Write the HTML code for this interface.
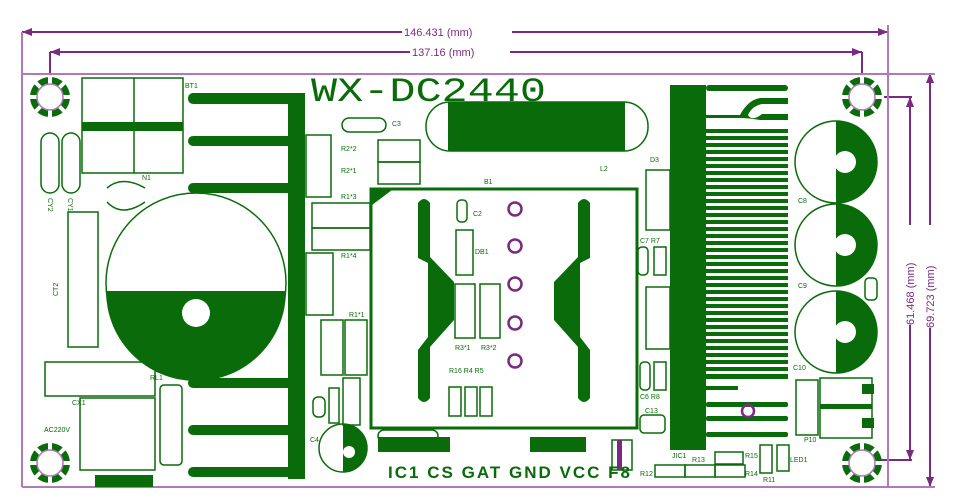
<!DOCTYPE html>
<html><head><meta charset="utf-8"><style>html,body{margin:0;padding:0;background:#fff}svg{display:block}</style></head>
<body>
<svg width="960" height="500" viewBox="0 0 960 500" xmlns="http://www.w3.org/2000/svg" font-family="Liberation Sans, sans-serif">
<defs>
<g id="mh">
<circle cx="0" cy="0" r="20" fill="#0a6b0a"/>
<g stroke="#fff" stroke-width="4"><line x1="0" y1="-22" x2="0" y2="22"/><line x1="-22" y1="0" x2="22" y2="0"/><line x1="-16" y1="-16" x2="16" y2="16"/><line x1="-16" y1="16" x2="16" y2="-16"/></g>
<circle cx="0" cy="0" r="13" fill="#fff" stroke="#b07ab8" stroke-width="1.5"/>
</g>
</defs>
<rect width="960" height="500" fill="#fff"/>
<!-- dimension lines -->
<g stroke="#7a2a80" stroke-width="2" fill="none">
<line x1="22" y1="32" x2="402" y2="32"/><line x1="512" y1="32" x2="888" y2="32"/>
<line x1="50" y1="52" x2="410" y2="52"/><line x1="510" y1="52" x2="862" y2="52"/>
<line x1="50" y1="52" x2="50" y2="97"/><line x1="862" y1="52" x2="862" y2="97"/>
<line x1="910" y1="97" x2="910" y2="225"/><line x1="910" y1="325" x2="910" y2="460"/>
<line x1="930" y1="73" x2="930" y2="225"/><line x1="930" y1="328" x2="930" y2="487"/>
<line x1="862" y1="97" x2="912" y2="97"/><line x1="862" y1="460" x2="912" y2="460"/>
</g>
<g fill="#7a2a80">
<polygon points="22,32 32,28 32,36"/><polygon points="888,32 878,28 878,36"/>
<polygon points="50,52 60,48 60,56"/><polygon points="862,52 852,48 852,56"/>
<polygon points="910,97 906,107 914,107"/><polygon points="910,460 906,450 914,450"/>
<polygon points="930,73 926,83 934,83"/><polygon points="930,487 926,477 934,477"/>
</g>
<g fill="#7a2a80" font-size="11">
<text x="404" y="36">146.431 (mm)</text>
<text x="412" y="56">137.16 (mm)</text>
<text transform="translate(914,325) rotate(-90)">61.468 (mm)</text>
<text transform="translate(934,328) rotate(-90)">69.723 (mm)</text>
</g>
<!-- board outline -->
<g stroke="#b07ab8" stroke-width="2" fill="none">
<line x1="22" y1="74" x2="935" y2="74"/>
<line x1="22" y1="32" x2="22" y2="487"/>
<line x1="888" y1="25" x2="888" y2="487"/>
<line x1="22" y1="487" x2="935" y2="487"/>
</g>
<use href="#mh" x="50" y="97"/><use href="#mh" x="862" y="97"/><use href="#mh" x="50" y="463"/><use href="#mh" x="862" y="463"/>
<g fill="none" stroke="#0a6b0a" stroke-width="1.5">
<rect x="82" y="78" width="101" height="95"/><line x1="134" y1="78" x2="134" y2="173"/>
<rect x="41" y="133" width="18" height="60" rx="9"/><rect x="62" y="133" width="18" height="60" rx="9"/>
<path d="M107,188 Q122,175 145,188"/><path d="M107,202 Q122,218 145,202"/>
<circle cx="196" cy="283" r="90"/>
<rect x="68" y="212" width="30" height="135"/>
<rect x="45" y="362" width="110" height="34"/>
<rect x="80" y="398" width="75" height="72"/>
<rect x="160" y="385" width="22" height="80" rx="4"/>
<rect x="306" y="135" width="25" height="62"/>
<rect x="378" y="140" width="42" height="22"/><rect x="378" y="162" width="42" height="22"/>
<rect x="342" y="118" width="44" height="14" rx="7"/>
<rect x="312" y="203" width="58" height="25"/><rect x="312" y="228" width="58" height="22"/>
<rect x="306" y="253" width="27" height="62"/>
<rect x="321" y="320" width="22" height="55"/><rect x="345" y="320" width="22" height="55"/>
<rect x="343" y="378" width="17" height="47"/><rect x="329" y="388" width="10" height="35"/>
<rect x="313" y="397" width="12" height="20" rx="5"/>
<circle cx="343" cy="448" r="24"/>
<rect x="426" y="102" width="222" height="49" rx="24"/>
<rect x="456" y="230" width="17" height="45"/><rect x="455" y="284" width="20" height="54"/><rect x="480" y="284" width="20" height="54"/>
<rect x="457" y="200" width="10" height="22" rx="4"/>
<rect x="449" y="387" width="12" height="29"/><rect x="465" y="387" width="12" height="29"/><rect x="480" y="387" width="12" height="29"/>
<rect x="646" y="170" width="24" height="60"/><rect x="646" y="287" width="24" height="62"/>
<rect x="638" y="247" width="10" height="28" rx="4"/><rect x="654" y="247" width="12" height="28"/>
<rect x="640" y="362" width="10" height="28" rx="4"/><rect x="654" y="362" width="12" height="28"/>
<rect x="640" y="415" width="25" height="18" rx="4"/>
<rect x="796" y="380" width="22" height="55"/><rect x="820" y="378" width="52" height="60"/>
<rect x="612" y="440" width="20" height="30"/>
<rect x="655" y="465" width="30" height="12"/><rect x="685" y="465" width="30" height="12"/><rect x="715" y="465" width="30" height="12"/>
<rect x="715" y="452" width="28" height="12"/><rect x="760" y="445" width="12" height="28"/><rect x="777" y="445" width="12" height="26"/>
<rect x="865" y="278" width="12" height="22" rx="4"/>
<rect x="378" y="430" width="60" height="12" rx="6"/>
</g>
<g fill="#0a6b0a">
<rect x="82" y="122" width="101" height="9"/>
<rect x="288" y="93" width="17" height="386"/>
<rect x="188" y="93" width="117" height="11" rx="5"/>
<rect x="188" y="136" width="105" height="10" rx="5"/>
<rect x="188" y="183" width="105" height="10" rx="5"/>
<rect x="188" y="378" width="105" height="10" rx="5"/>
<rect x="188" y="425" width="105" height="10" rx="5"/>
<rect x="188" y="467" width="105" height="10" rx="5"/>
<rect x="95" y="475" width="58" height="12"/>
<path d="M106,291 H286 A90,90 0 0 1 106,291 Z"/>
<rect x="448" y="102" width="177" height="49"/>
<path d="M343,424 A24,24 0 0 1 343,472 Z"/>
<path d="M372,190 H392 L372,205 Z"/>
<path d="M418,203 Q424,195 430,203 V257 L454,282 V320 L430,347 V398 Q424,406 418,398 V350 L428,337 V263 L418,258 Z"/>
<path d="M590,203 Q584,195 578,203 V257 L554,282 V320 L578,347 V398 Q584,406 590,398 V350 L580,337 V263 L590,258 Z"/>
<rect x="378" y="437" width="72" height="15"/><rect x="530" y="437" width="56" height="15"/>
<rect x="670" y="85" width="36" height="365"/>
<rect x="706" y="85" width="82" height="6" rx="3"/>
<path d="M706,115 H740 Q748,100 760,98 H788 V104 H762 Q752,106 748,115 Q752,122 762,114 H788 V120 H760 Q748,118 740,118 H706 Z"/>
<rect x="706" y="374" width="82" height="5"/>
<rect x="706" y="402" width="82" height="5" rx="2"/><rect x="706" y="416" width="82" height="5" rx="2"/><rect x="706" y="432" width="82" height="5" rx="2"/>
<path d="M836,121 A41,41 0 0 1 836,203 Z"/><path d="M836,204 A41,41 0 0 1 836,286 Z"/><path d="M836,291 A41,41 0 0 1 836,373 Z"/>
<rect x="820" y="404" width="52" height="5"/>
<rect x="862" y="384" width="12" height="10"/><rect x="862" y="418" width="12" height="10"/>
</g>
<g stroke="#0a6b0a" stroke-width="4">
<line x1="706" y1="131" x2="788" y2="131"/>
<line x1="706" y1="138" x2="788" y2="138"/><line x1="706" y1="145" x2="788" y2="145"/><line x1="706" y1="152" x2="788" y2="152"/><line x1="706" y1="159" x2="788" y2="159"/><line x1="706" y1="166" x2="788" y2="166"/><line x1="706" y1="173" x2="788" y2="173"/><line x1="706" y1="180" x2="788" y2="180"/><line x1="706" y1="187" x2="788" y2="187"/><line x1="706" y1="194" x2="788" y2="194"/><line x1="706" y1="201" x2="788" y2="201"/><line x1="706" y1="208" x2="788" y2="208"/><line x1="706" y1="215" x2="788" y2="215"/><line x1="706" y1="222" x2="788" y2="222"/><line x1="706" y1="229" x2="788" y2="229"/><line x1="706" y1="236" x2="788" y2="236"/><line x1="706" y1="243" x2="788" y2="243"/><line x1="706" y1="250" x2="788" y2="250"/><line x1="706" y1="257" x2="788" y2="257"/><line x1="706" y1="264" x2="788" y2="264"/><line x1="706" y1="271" x2="788" y2="271"/><line x1="706" y1="278" x2="788" y2="278"/><line x1="706" y1="285" x2="788" y2="285"/><line x1="706" y1="292" x2="788" y2="292"/><line x1="706" y1="299" x2="788" y2="299"/><line x1="706" y1="306" x2="788" y2="306"/><line x1="706" y1="313" x2="788" y2="313"/><line x1="706" y1="320" x2="788" y2="320"/><line x1="706" y1="327" x2="788" y2="327"/><line x1="706" y1="334" x2="788" y2="334"/><line x1="706" y1="341" x2="788" y2="341"/><line x1="706" y1="348" x2="788" y2="348"/><line x1="706" y1="355" x2="788" y2="355"/><line x1="706" y1="362" x2="788" y2="362"/><line x1="706" y1="369" x2="788" y2="369"/>
<line x1="706" y1="388" x2="738" y2="388"/>
</g>
<g fill="#fff"><circle cx="196" cy="313" r="14"/><circle cx="845" cy="162" r="11"/><circle cx="845" cy="245" r="11"/><circle cx="845" cy="332" r="11"/><circle cx="349" cy="452" r="6"/></g>
<g fill="none" stroke="#0a6b0a" stroke-width="1.5">
<circle cx="836" cy="162" r="41"/><circle cx="836" cy="245" r="41"/><circle cx="836" cy="332" r="41"/>
</g>
<rect x="371" y="189" width="266" height="239" fill="none" stroke="#0a6b0a" stroke-width="3"/>
<g fill="none" stroke="#7a2a80" stroke-width="2.5">
<circle cx="515" cy="209" r="6.5"/><circle cx="515" cy="246" r="6.5"/><circle cx="515" cy="284" r="6.5"/><circle cx="515" cy="323" r="6.5"/><circle cx="515" cy="361" r="6.5"/>
<rect x="742" y="405" width="12" height="12" rx="6"/>
</g>
<rect x="617" y="440" width="5" height="30" fill="#7a2a80"/>
<text x="311" y="101" font-size="34" font-family="Liberation Mono, monospace" fill="#0a6b0a" textLength="235" lengthAdjust="spacingAndGlyphs">WX-DC2440</text>
<text x="388" y="478" font-size="17" font-weight="bold" fill="#0a6b0a" textLength="242" lengthAdjust="spacing">IC1  CS  GAT  GND  VCC  F8</text>
<g fill="#0a6b0a" font-size="7">
<text x="185" y="88">BT1</text><text x="142" y="180">N1</text><text x="392" y="126">C3</text>
<text x="341" y="151">R2*2</text><text x="341" y="173">R2*1</text><text x="341" y="199">R1*3</text><text x="341" y="258">R1*4</text><text x="349" y="317">R1*1</text>
<text x="484" y="184">B1</text><text x="600" y="171">L2</text><text x="650" y="162">D3</text><text x="473" y="216">C2</text><text x="475" y="254">DB1</text>
<text x="455" y="350">R3*1</text><text x="481" y="350">R3*2</text><text x="449" y="373">R16 R4 R5</text>
<text x="640" y="243">C7 R7</text><text x="640" y="399">C6 R8</text><text x="645" y="413">C13</text>
<text x="798" y="203">C8</text><text x="798" y="288">C9</text><text x="793" y="370">C10</text><text x="804" y="442">P10</text>
<text x="72" y="405">CX1</text><text x="44" y="432">AC220V</text><text x="150" y="380">RL1</text><text x="310" y="442">C4</text>
<text x="790" y="462">LED1</text><text x="745" y="458">R15</text><text x="745" y="476">R14</text><text x="763" y="482">R11</text><text x="692" y="462">R13</text><text x="640" y="476">R12</text><text x="672" y="458">JIC1</text>
<text transform="translate(48,198) rotate(90)">CY2</text><text transform="translate(68,198) rotate(90)">CY1</text><text transform="translate(58,296) rotate(-90)">CT2</text>
</g>
</svg>
</body></html>
